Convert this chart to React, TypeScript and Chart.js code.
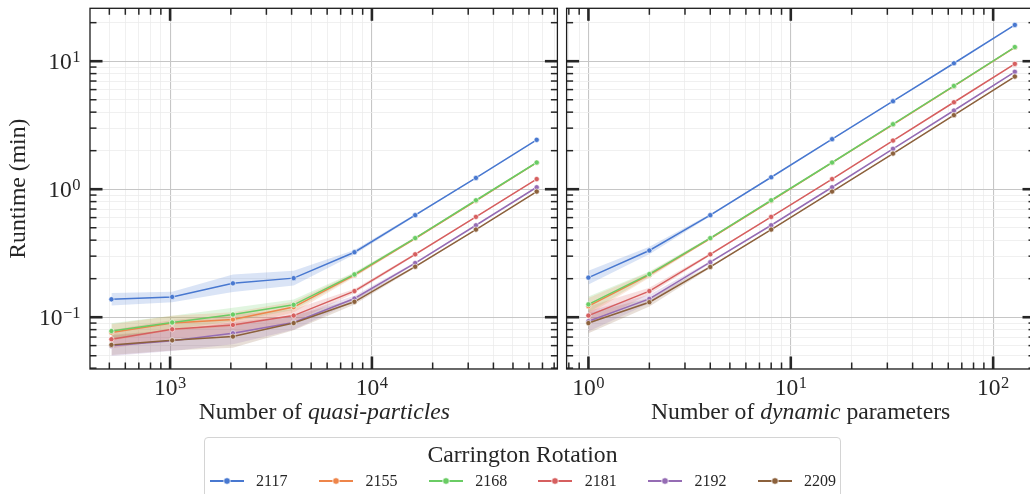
import React, { useEffect, useRef } from 'react';
import { Chart, registerables } from 'chart.js';
Chart.register(...registerables);

const FONT = '"Liberation Serif", "Times New Roman", serif';
const TEXT = '#262626';

// ---- data ----
const particles = [512, 1024, 2048, 4096, 8192, 16384, 32768, 65536];
const dynParams = [1, 2, 4, 8, 16, 32, 64, 128];
const rotations = ['2117', '2155', '2168', '2181', '2192', '2209'];
const colors = ['#4878d0', '#ee854a', '#6acc64', '#d65f5f', '#956cb4', '#8c613c'];

// runtime (min) vs number of quasi-particles
const rt2117P = [0.138, 0.144, 0.184, 0.202, 0.322, 0.627, 1.225, 2.43];
const rt2155P = [0.076, 0.09, 0.096, 0.12, 0.213, 0.412, 0.812, 1.61];
const rt2168P = [0.078, 0.091, 0.105, 0.125, 0.216, 0.415, 0.82, 1.617];
const rt2181P = [0.0673, 0.0805, 0.087, 0.103, 0.16, 0.31, 0.608, 1.2];
const rt2192P = [0.0598, 0.0655, 0.075, 0.091, 0.14, 0.265, 0.523, 1.036];
const rt2209P = [0.0608, 0.066, 0.0706, 0.09, 0.132, 0.248, 0.484, 0.959];
// relative confidence-band half-widths
const ci2117P = [0.12, 0.1, 0.17, 0.14, 0.04, 0.02, 0.01, 0.01];
const ci2155P = [0.16, 0.14, 0.14, 0.1, 0.04, 0.02, 0.01, 0.01];
const ci2168P = [0.15, 0.13, 0.13, 0.1, 0.04, 0.02, 0.01, 0.01];
const ci2181P = [0.18, 0.18, 0.2, 0.12, 0.04, 0.02, 0.01, 0.01];
const ci2192P = [0.2, 0.2, 0.22, 0.14, 0.05, 0.02, 0.01, 0.01];
const ci2209P = [0.2, 0.2, 0.22, 0.14, 0.05, 0.02, 0.01, 0.01];

// runtime (min) vs number of dynamic parameters
const rt2117D = [0.204, 0.332, 0.627, 1.24, 2.46, 4.87, 9.64, 19.2];
const rt2155D = [0.122, 0.214, 0.412, 0.812, 1.61, 3.2, 6.38, 12.8];
const rt2168D = [0.126, 0.217, 0.415, 0.82, 1.617, 3.22, 6.41, 12.9];
const rt2181D = [0.103, 0.16, 0.31, 0.608, 1.2, 2.4, 4.78, 9.53];
const rt2192D = [0.093, 0.139, 0.269, 0.523, 1.036, 2.07, 4.12, 8.26];
const rt2209D = [0.09, 0.131, 0.247, 0.484, 0.959, 1.9, 3.79, 7.59];
const ci2117D = [0.13, 0.07, 0.02, 0.01, 0.01, 0.01, 0.01, 0.01];
const ci2155D = [0.16, 0.05, 0.02, 0.01, 0.01, 0.01, 0.01, 0.01];
const ci2168D = [0.15, 0.05, 0.02, 0.01, 0.01, 0.01, 0.01, 0.01];
const ci2181D = [0.18, 0.06, 0.02, 0.01, 0.01, 0.01, 0.01, 0.01];
const ci2192D = [0.2, 0.08, 0.02, 0.01, 0.01, 0.01, 0.01, 0.01];
const ci2209D = [0.2, 0.08, 0.02, 0.01, 0.01, 0.01, 0.01, 0.01];

const runtimesP = [rt2117P, rt2155P, rt2168P, rt2181P, rt2192P, rt2209P];
const spreadsP = [ci2117P, ci2155P, ci2168P, ci2181P, ci2192P, ci2209P];
const runtimesD = [rt2117D, rt2155D, rt2168D, rt2181D, rt2192D, rt2209D];
const spreadsD = [ci2117D, ci2155D, ci2168D, ci2181D, ci2192D, ci2209D];

const yRange = [0.0394, 25.9];
const xRangeP = [401, 83000];
const xRangeD = [0.78, 161];

// ---- helpers ----
const isMajor = (v: number) => Math.abs(Math.log10(v) - Math.round(Math.log10(v))) < 1e-9;
function logTicks(min: number, max: number) {
  const out: number[] = [];
  for (let e = Math.floor(Math.log10(min)); e <= Math.ceil(Math.log10(max)); e++) {
    for (let m = 1; m <= 9; m++) {
      const v = parseFloat((m * Math.pow(10, e)).toPrecision(6));
      if (v >= min * 0.9999 && v <= max * 1.0001) out.push(v);
    }
  }
  return out;
}
function rgba(hex: string, a: number) {
  const n = parseInt(hex.slice(1), 16);
  return `rgba(${(n >> 16) & 255},${(n >> 8) & 255},${n & 255},${a})`;
}
function makeDatasets(xs: number[], runtimes: number[][], spreads: number[][]) {
  const ds: any[] = [];
  runtimes.forEach((ys, i) => {
    ds.push({
      label: rotations[i] + ' lo',
      data: ys.map((v, j) => ({ x: xs[j], y: v / (1 + spreads[i][j]) })),
      borderColor: 'rgba(0,0,0,0)', backgroundColor: 'rgba(0,0,0,0)',
      borderWidth: 0, pointRadius: 0, fill: false, order: 50,
    });
    ds.push({
      label: rotations[i] + ' hi',
      data: ys.map((v, j) => ({ x: xs[j], y: v * (1 + spreads[i][j]) })),
      borderColor: 'rgba(0,0,0,0)', backgroundColor: rgba(colors[i], 0.2),
      borderWidth: 0, pointRadius: 0, fill: '-1', order: 50,
    });
  });
  runtimes.forEach((ys, i) => {
    ds.push({
      label: rotations[i],
      data: ys.map((v, j) => ({ x: xs[j], y: v })),
      borderColor: colors[i], backgroundColor: colors[i],
      borderWidth: 1.5, pointRadius: 2.6, pointBackgroundColor: colors[i],
      pointBorderColor: '#ffffff', pointBorderWidth: 0.6, tension: 0, fill: false,
      order: 10 - i,
    });
  });
  return ds;
}

const supDigits: Record<string, string> = {};
function drawPow(ctx: CanvasRenderingContext2D, exp: number, x: number, baseline: number, align: 'center' | 'right') {
  const base = '10';
  const ex = exp < 0 ? '\u2212' + Math.abs(exp) : String(exp);
  ctx.font = `23.5px ${FONT}`;
  const wb = ctx.measureText(base).width;
  ctx.font = `16.5px ${FONT}`;
  const we = ctx.measureText(ex).width;
  const gap = 0.5;
  const total = wb + gap + we;
  const start = align === 'center' ? x - total / 2 : x - total;
  ctx.textAlign = 'left';
  ctx.textBaseline = 'alphabetic';
  ctx.fillStyle = TEXT;
  ctx.font = `23.5px ${FONT}`;
  ctx.fillText(base, start, baseline);
  ctx.font = `16.5px ${FONT}`;
  ctx.fillText(ex, start + wb + gap, baseline - 6.8);
}

const framePlugin = {
  id: 'frame',
  afterDraw(chart: any, _args: any, opts: any) {
    const { ctx, chartArea: a } = chart;
    const xs = chart.scales.x;
    const ys = chart.scales.y;
    ctx.save();
    ctx.strokeStyle = TEXT;
    ctx.lineCap = 'butt';
    const line = (x1: number, y1: number, x2: number, y2: number) => {
      ctx.beginPath(); ctx.moveTo(x1, y1); ctx.lineTo(x2, y2); ctx.stroke();
    };
    xs.ticks.forEach((t: any) => {
      const x = xs.getPixelForValue(t.value);
      const maj = isMajor(t.value);
      const L = maj ? 12.5 : 6.5;
      ctx.lineWidth = maj ? 2.6 : 1.5;
      line(x, a.bottom, x, a.bottom - L);
      line(x, a.top, x, a.top + L);
    });
    ys.ticks.forEach((t: any) => {
      const y = ys.getPixelForValue(t.value);
      const maj = isMajor(t.value);
      const L = maj ? 12.5 : 6.5;
      ctx.lineWidth = maj ? 2.6 : 1.5;
      line(a.left, y, a.left + L, y);
      line(a.right, y, a.right - L, y);
    });
    ctx.strokeStyle = '#1c1c1c';
    ctx.lineWidth = 1.3;
    ctx.strokeRect(a.left, a.top, a.right - a.left, a.bottom - a.top);
    xs.ticks.forEach((t: any) => {
      if (!isMajor(t.value)) return;
      drawPow(ctx, Math.round(Math.log10(t.value)), xs.getPixelForValue(t.value), a.bottom + 26, 'center');
    });
    if (opts && opts.yLabels) {
      ys.ticks.forEach((t: any) => {
        if (!isMajor(t.value)) return;
        drawPow(ctx, Math.round(Math.log10(t.value)), a.left - 9.5, ys.getPixelForValue(t.value) + 8, 'right');
      });
    }
    ctx.restore();
  },
};

const gridColor = (c: any) => (c.tick && isMajor(c.tick.value) ? '#c6c6c6' : '#ececec');
const gridWidth = (c: any) => (c.tick && isMajor(c.tick.value) ? 1.1 : 0.8);

function makeConfig(xs: number[], runtimes: number[][], spreads: number[][], xRange: number[], left: boolean, pad: any) {
  const xt = logTicks(xRange[0], xRange[1]);
  const yt = logTicks(yRange[0], yRange[1]);
  return {
    type: 'line',
    data: { datasets: makeDatasets(xs, runtimes, spreads) },
    plugins: [framePlugin],
    options: {
      responsive: false,
      animation: false,
      devicePixelRatio: 1,
      layout: { padding: pad },
      plugins: {
        legend: { display: false },
        tooltip: { enabled: false },
        filler: { drawTime: 'beforeDatasetsDraw' },
        frame: { yLabels: left },
      },
      scales: {
        x: {
          type: 'logarithmic', min: xRange[0], max: xRange[1],
          afterBuildTicks: (s: any) => { s.ticks = xt.map((v) => ({ value: v })); },
          afterFit: (s: any) => { s.height = 125; },
          ticks: { display: false, autoSkip: false },
          grid: { color: gridColor, lineWidth: gridWidth, drawTicks: false },
          border: { display: false },
        },
        y: {
          type: 'logarithmic', min: yRange[0], max: yRange[1],
          afterBuildTicks: (s: any) => { s.ticks = yt.map((v) => ({ value: v })); },
          afterFit: (s: any) => { s.width = left ? 90 : 0; },
          ticks: { display: false, autoSkip: false },
          grid: { color: gridColor, lineWidth: gridWidth, drawTicks: false },
          border: { display: false },
          title: left
            ? { display: true, text: 'Runtime (min)', color: TEXT, font: { family: FONT, size: 23.7 }, padding: { top: 4.5, bottom: 0 } }
            : { display: false },
        },
      },
    },
  };
}

function Handle({ color }: { color: string }) {
  return (
    <svg width={34} height={10} style={{ position: 'absolute', left: 0, top: 0 }}>
      <line x1={0} y1={5} x2={34} y2={5} stroke={color} strokeWidth={2} />
      <circle cx={17} cy={5} r={3.3} fill={color} stroke="#ffffff" strokeWidth={0.7} />
    </svg>
  );
}

export default function App() {
  const leftRef = useRef<HTMLCanvasElement | null>(null);
  const rightRef = useRef<HTMLCanvasElement | null>(null);
  useEffect(() => {
    const c1 = new Chart(leftRef.current as any, makeConfig(particles, runtimesP, spreadsP, xRangeP, true, { left: 0, right: 3.3, top: 8.3, bottom: 0 }) as any);
    const c2 = new Chart(rightRef.current as any, makeConfig(dynParams, runtimesD, spreadsD, xRangeD, false, { left: 4.3, right: 7, top: 8.3, bottom: 0 }) as any);
    return () => { c1.destroy(); c2.destroy(); };
  }, []);
  const titleStyle: React.CSSProperties = {
    position: 'absolute', top: 397, width: 468.7, textAlign: 'center',
    fontSize: 23.7, lineHeight: '28px', whiteSpace: 'nowrap',
  };
  return (
    <div style={{ position: 'absolute', left: 0, top: 0, width: 1030, height: 494, overflow: 'hidden', background: '#ffffff', fontFamily: FONT, color: TEXT }}>
      <canvas ref={leftRef} width={562} height={494} style={{ position: 'absolute', left: 0, top: 0, width: 562, height: 494 }} />
      <canvas ref={rightRef} width={480} height={494} style={{ position: 'absolute', left: 562, top: 0, width: 480, height: 494 }} />
      <div style={{ ...titleStyle, left: 90 }}>Number of <i>quasi-particles</i></div>
      <div style={{ ...titleStyle, left: 566.3 }}>Number of <i>dynamic</i> parameters</div>
      <div style={{ position: 'absolute', left: 204, top: 437, width: 637, height: 80, border: '1px solid #d4d4d4', borderRadius: 4, background: '#ffffff', boxSizing: 'border-box' }}>
        <div style={{ position: 'absolute', left: 0, top: 2.3, width: '100%', textAlign: 'center', fontSize: 23.7, lineHeight: '28px', whiteSpace: 'nowrap' }}>Carrington Rotation</div>
        {rotations.map((r, i) => (
          <div key={r} style={{ position: 'absolute', left: 4.5 + i * 109.6, top: 38, width: 100, height: 20 }}>
            <Handle color={colors[i]} />
            <div style={{ position: 'absolute', left: 46.5, top: -4.7, fontSize: 16, lineHeight: '20px', whiteSpace: 'nowrap' }}>{r}</div>
          </div>
        ))}
      </div>
    </div>
  );
}
